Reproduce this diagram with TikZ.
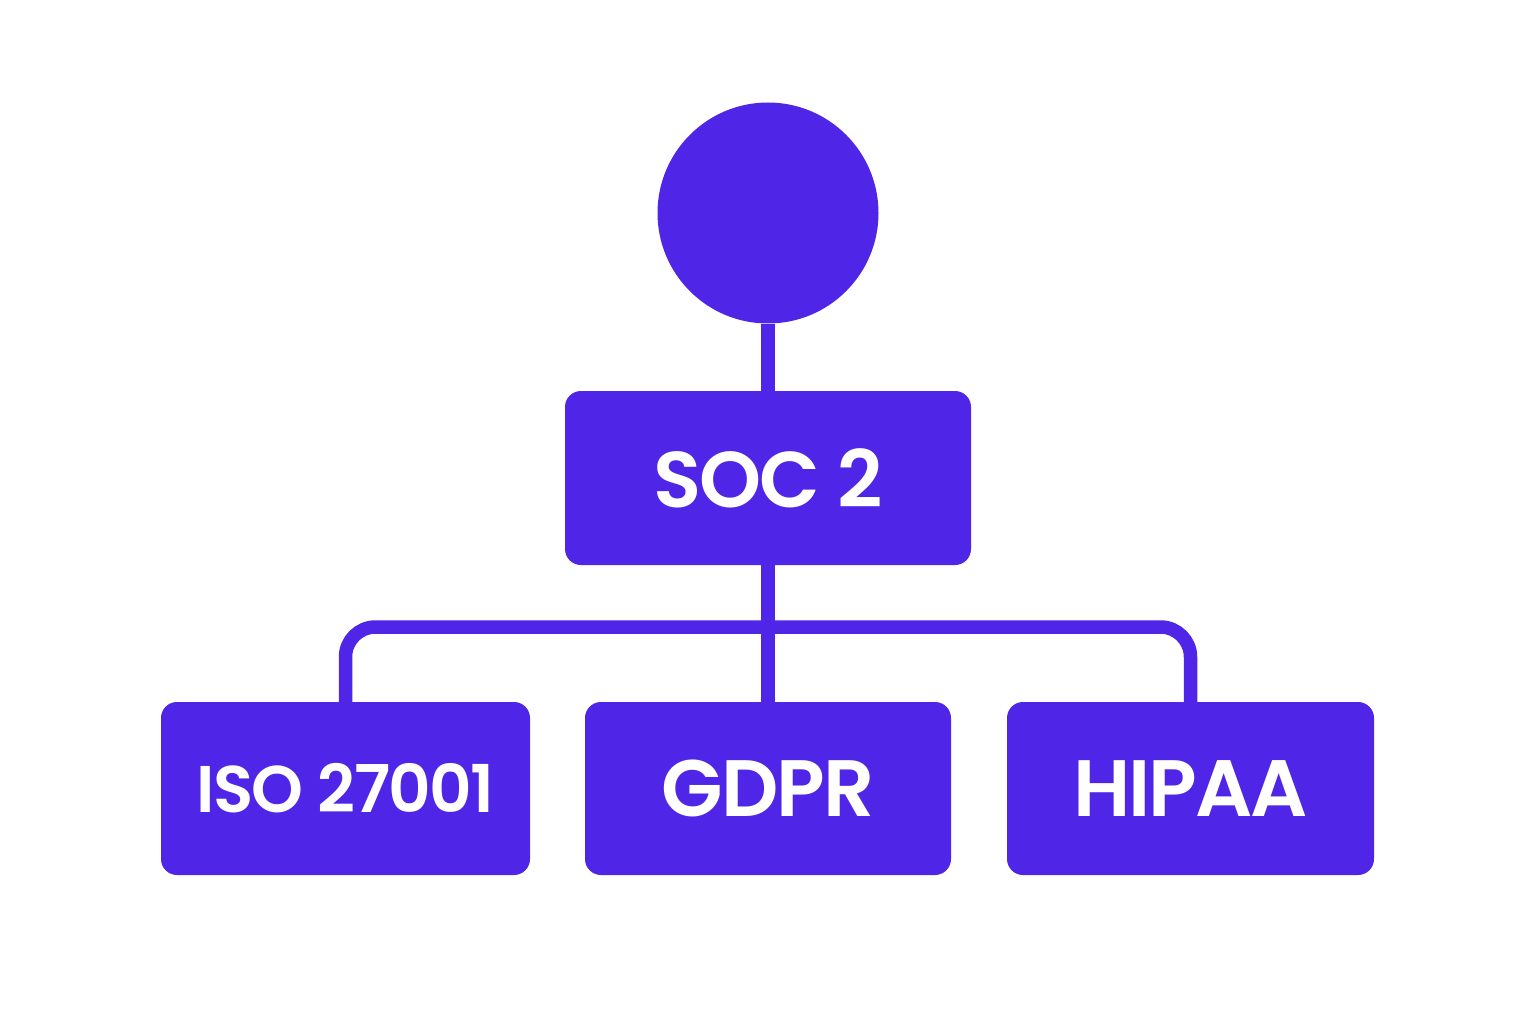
\documentclass[tikz,border=0pt]{standalone}
\usepackage{fontspec}
\setmainfont{Poppins}[UprightFont=* SemiBold, BoldFont=* SemiBold, LetterSpace=-2.5]
\usetikzlibrary{backgrounds}
\definecolor{violet}{HTML}{4F25E7}
\tikzset{
  box/.style={fill=violet, rounded corners=16pt, inner sep=0pt, text=white},
  conn/.style={draw=violet, line width=13.5pt},
}
\begin{document}
\begin{tikzpicture}[x=1pt,y=-1pt]
\useasboundingbox (0,0) rectangle (1536,1024);
\node[circle, fill=violet, minimum size=221pt, inner sep=0pt] (c) at (768,213) {};
\node[box, minimum width=406pt, minimum height=174pt, font=\fontsize{79}{90}\selectfont] (soc) at (768,478) {SOC 2};
\node[box, minimum width=369pt, minimum height=173pt, font=\fontsize{66}{72}\selectfont] (iso) at (345.5,788.5) {ISO 27001};
\node[box, minimum width=366pt, minimum height=173pt, font=\fontsize{80}{88}\selectfont] (gdpr) at (768,788.5) {GDPR};
\node[box, minimum width=367pt, minimum height=173pt, font=\fontsize{80}{88}\selectfont] (hipaa) at (1190.5,788.5) {HIPAA};
\coordinate (j) at (768,627);
\begin{scope}[on background layer]
\draw[conn] (c.south) -- (soc.north);
\draw[conn] (soc.south) -- (gdpr.north);
\draw[conn, rounded corners=30pt] (iso.north) |- (j) -| (hipaa.north);
\end{scope}
\end{tikzpicture}
\end{document}
